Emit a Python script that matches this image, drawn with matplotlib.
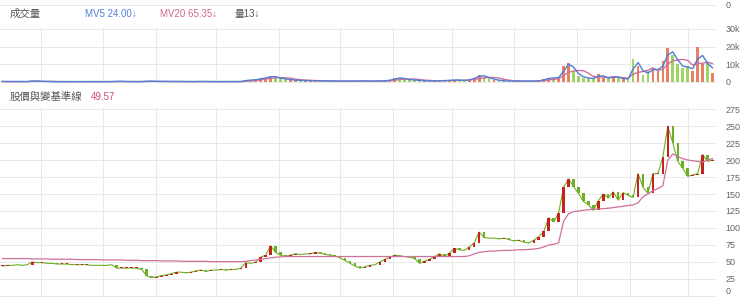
import numpy as np
import pandas as pd
import matplotlib
matplotlib.use("Agg")
import matplotlib.pyplot as plt

plt.rcParams['font.family'] = ['Liberation Sans', 'Noto Sans CJK TC', 'DejaVu Sans']

# closing price, one value per candle
close = [44, 45, 45, 46, 45, 46, 50, 49, 49, 48,
         48, 47, 47, 47, 46, 46, 46, 46, 45, 45,
         45, 45, 46, 41, 41, 41, 41, 41, 39, 30,
         27, 28, 30, 31, 33, 35, 35, 34, 35, 37,
         38, 36, 38, 38, 39, 38, 39, 39, 41, 49,
         48, 50, 57, 60, 74, 64, 60, 58, 60, 62,
         61, 62, 62, 64, 63, 61, 60, 59, 56, 52,
         48, 44, 41, 43, 45, 46, 50, 54, 57, 60,
         59, 58, 57, 55, 48, 51, 54, 58, 62, 58,
         63, 70, 68, 67, 72, 78, 94, 86, 85, 85,
         84, 85, 83, 81, 82, 79, 78, 82, 87, 95,
         115, 109, 122, 160, 172, 161, 151, 139, 134, 126,
         140, 150, 144, 153, 141, 152, 148, 145, 180, 160,
         151, 180, 180, 205, 250, 225, 198, 188, 176, 178,
         180, 208, 198, 200]

# base line (pink)
base = [55, 55, 55, 55, 55, 55, 54.5, 54.5, 54.5, 54.5,
        54, 54, 54, 54, 54, 53.5, 53.5, 53.5, 53.5, 53.5,
        53, 53, 53, 53, 53, 52.5, 52.5, 52.5, 52, 52,
        52, 52, 51.5, 51.5, 51.5, 51.5, 51, 51, 51, 51,
        51, 51, 50.5, 50.5, 50.5, 50.5, 50.5, 50.5, 50.5, 51,
        52, 53, 54, 55, 56, 57, 57.5, 58, 58, 58,
        58, 58, 58, 58, 58, 58, 58, 58, 58, 58,
        58, 58, 58, 58, 58, 58, 58, 58, 58, 58,
        58, 58, 58, 58, 58, 58, 58, 58, 58, 58,
        58, 58, 58, 58, 59, 62, 64, 65, 66, 66,
        66.5, 67, 67, 67.5, 68, 68, 68.5, 69, 70, 72,
        75, 76, 78, 110, 121, 124, 125, 126, 127, 127.5,
        128, 128.5, 129, 130, 131, 132, 133, 134, 137, 146,
        150, 155, 158, 162, 200, 209, 205, 202, 200, 199,
        198, 197, 200, 202]

# volume in thousands
volume = [0.3, 0.2, 0.3, 0.2, 0.2, 0.3, 0.8, 0.4, 0.3, 0.2,
          0.2, 0.2, 0.2, 0.2, 0.2, 0.2, 0.2, 0.2, 0.2, 0.2,
          0.2, 0.2, 0.2, 0.5, 0.3, 0.2, 0.2, 0.2, 0.3, 0.6,
          0.4, 0.3, 0.3, 0.2, 0.3, 0.3, 0.2, 0.2, 0.2, 0.3,
          0.3, 0.2, 0.2, 0.2, 0.2, 0.2, 0.2, 0.2, 0.3, 1.2,
          1.0, 1.5, 2.0, 2.5, 3.5, 2.5, 2.0, 1.5, 1.2, 1.0,
          0.8, 0.8, 0.7, 0.7, 0.6, 0.6, 0.5, 0.5, 0.5, 0.5,
          0.5, 0.6, 0.6, 0.5, 0.5, 0.5, 0.6, 0.8, 1.2, 2.0,
          2.5, 1.5, 1.2, 1.0, 0.8, 0.7, 0.6, 0.6, 0.8, 0.8,
          1.0, 1.2, 1.0, 0.8, 1.5, 2.5, 4.0, 3.0, 2.0, 1.2,
          0.8, 0.6, 0.5, 0.5, 0.5, 0.5, 0.5, 0.5, 0.8, 1.5,
          2.5, 2.0, 3.0, 9.0, 11.0, 6.0, 3.5, 2.5, 2.0, 2.0,
          4.5, 2.5, 2.0, 3.5, 2.0, 2.0, 1.5, 13.0, 9.0, 4.0,
          6.0, 8.0, 6.0, 12.0, 19.0, 15.0, 10.0, 8.0, 9.0, 6.0,
          20.0, 10.0, 11.0, 5.0]

price_ticks = [0, 25, 50, 75, 100, 125, 150, 175, 200, 225, 250, 275]
vol_ticks = [0, 10, 20, 30]
vol_tick_labels = ['0', '10k', '20k', '30k']
date_grid = [7.8, 20.2, 31, 43, 55.6, 68, 78.6, 90.6, 103, 115.8, 126.4, 138]

UP = '#c9211f'
DOWN = '#6db024'
PINK = '#d0709c'
GRID = '#e9e9e9'
LABEL = '#666666'

n = len(close)
idx = np.arange(n)
close = np.array(close, dtype=float)
opn = np.r_[close[0], close[:-1]]
up = close >= opn

vol = pd.Series(volume)
mv5 = vol.rolling(2, min_periods=1).mean()
mv20 = vol.rolling(5, min_periods=1).mean()

W, H = 740, 298
fig = plt.figure(figsize=(W / 100, H / 100), dpi=100)


def box(l, t, r, b):
    return [l / W, 1 - b / H, (r - l) / W, (b - t) / H]


def style(ax):
    for s in ax.spines.values():
        s.set_visible(False)
    ax.tick_params(length=0, labelsize=6.5, labelcolor=LABEL, pad=7)
    ax.yaxis.tick_right()
    ax.set_xticks(date_grid)
    ax.set_xticklabels([])
    ax.grid(True, color=GRID, linewidth=0.7)
    ax.set_axisbelow(True)
    ax.set_xlim(-0.5, n - 0.3)


# top strip: bottom edge of a panel above
ax0 = fig.add_axes(box(0, 0, 716, 6))
style(ax0)
ax0.set_ylim(-1, 3)
ax0.set_yticks([0])
ax0.set_xticks([])
ax0.axhline(0, color=GRID, linewidth=0.8)

# volume panel
ax1 = fig.add_axes(box(0, 27, 716, 83))
style(ax1)
ax1.set_ylim(-0.57, 31.1)
ax1.set_yticks(vol_ticks)
ax1.set_yticklabels(vol_tick_labels)
ax1.bar(idx[up], vol[up], width=0.55, color='#e4603c', alpha=0.8)
ax1.bar(idx[~up], vol[~up], width=0.55, color='#86cc3c', alpha=0.8)
ax1.plot(idx, mv20, color=PINK, linewidth=1.0)
ax1.plot(idx, mv5, color='#4f7fd6', linewidth=1.0)

# price panel
ax2 = fig.add_axes(box(0, 107, 716, 298))
style(ax2)
ax2.set_ylim(-3, 278)
ax2.set_yticks(price_ticks)
ax2.get_yticklabels()[0].set_verticalalignment('bottom')
body = np.maximum(np.abs(close - opn), 0.9)
bottom = np.minimum(close, opn)
ax2.plot(idx, close, color=DOWN, linewidth=0.8, zorder=1)
ax2.bar(idx[up], body[up], bottom=bottom[up], width=0.5, color=UP, zorder=2)
ax2.bar(idx[~up], body[~up], bottom=bottom[~up], width=0.5, color=DOWN, zorder=2)
ax2.plot(idx, base, color=PINK, linewidth=0.9, zorder=3)


def txt(x, y, s, color, size=7, weight='normal'):
    fig.text(x / W, 1 - y / H, s, color=color, fontsize=size,
             fontweight=weight, va='center', ha='left')


txt(10, 14, '成交量', '#555555', size=7.5)
txt(85, 14, 'MV5 24.00↓', '#4f7fd6')
txt(160, 14, 'MV20 65.35↓', '#d3658f')
txt(235, 14, '量13↓', '#555555')
txt(10, 97, '股價與變基準線', '#555555', size=7.5)
txt(91, 97, '49.57', '#d2457a')

fig.savefig('out.png', dpi=100)
